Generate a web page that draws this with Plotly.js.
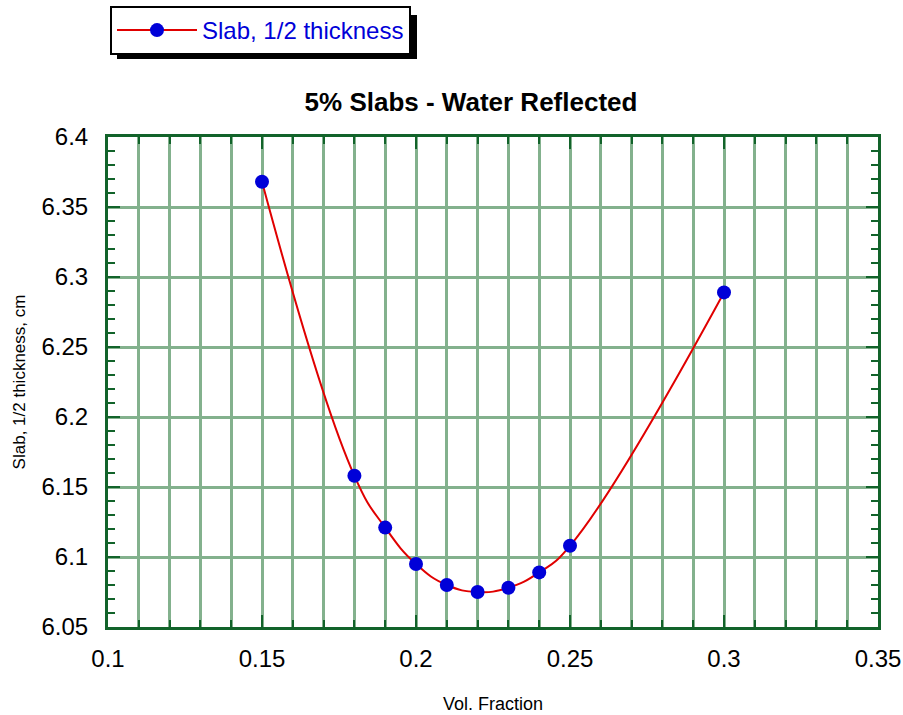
<!DOCTYPE html>
<html>
<head>
<meta charset="utf-8">
<script src="https://cdn.plot.ly/plotly-3.0.1.min.js"></script>
<style>html,body{margin:0;padding:0;background:#fff;}#chart{width:903px;height:715px;}</style>
</head>
<body>
<div id="chart"></div>
<script>
const volFraction = [0.15, 0.18, 0.19, 0.20, 0.21, 0.22, 0.23, 0.24, 0.25, 0.30];
const halfThickness = [6.368, 6.158, 6.121, 6.095, 6.080, 6.075, 6.078, 6.089, 6.108, 6.289];
const seriesName = "Slab, 1/2 thickness";
const chartTitle = "5% Slabs - Water Reflected";
const xTitle = "Vol. Fraction";
const yTitle = "Slab, 1/2 thickness, cm";
const xTickVals = [0.1, 0.15, 0.2, 0.25, 0.3, 0.35];
const xTickText = ["0.1", "0.15", "0.2", "0.25", "0.3", "0.35"];
const yTickVals = [6.05, 6.1, 6.15, 6.2, 6.25, 6.3, 6.35, 6.4];
const yTickText = ["6.05", "6.1", "6.15", "6.2", "6.25", "6.3", "6.35", "6.4"];

const W = 903, H = 715, ML = 108, MR = 25, MT = 137, MB = 88;
const PW = W - ML - MR, PH = H - MT - MB;
const px2x = p => (p - ML) / PW;
const py2y = p => (H - MB - p) / PH;

const frame = '#12632a';
const gridC = '#83b18d';
const FF = 'Arial, "Liberation Sans", sans-serif';

const trace = {
  x: volFraction, y: halfThickness, name: seriesName,
  type: 'scatter', mode: 'lines+markers',
  line: {color: '#e00000', width: 2, shape: 'spline', smoothing: 1.3},
  marker: {color: '#0000d8', size: 14, line: {width: 0}},
  showlegend: true
};

const axisCommon = {
  showline: true, linecolor: frame, linewidth: 3, mirror: 'allticks',
  ticks: 'inside', tickcolor: frame, tickwidth: 2, ticklen: 12,
  tickfont: {family: FF, size: 24, color: '#000'},
  zeroline: false, showgrid: true, gridcolor: gridC, gridwidth: 3,
  automargin: false
};

const layout = {
  width: W, height: H,
  margin: {l: ML, r: MR, t: MT, b: MB, pad: 0, autoexpand: false},
  paper_bgcolor: '#fff', plot_bgcolor: '#fff',
  font: {family: FF, color: '#000'},
  title: {text: '<b>' + chartTitle + '</b>', font: {size: 26, color: '#000', family: FF},
          x: px2x(471), xref: 'paper', xanchor: 'center', y: 1 - 102 / H, yanchor: 'middle'},
  xaxis: Object.assign({}, axisCommon, {
    range: [0.1, 0.35], tickmode: 'array', tickvals: xTickVals, ticktext: xTickText,
    ticklabelstandoff: 8,
    minor: {dtick: 0.01, tick0: 0.1, showgrid: true, gridcolor: gridC, gridwidth: 3,
            ticks: 'inside', ticklen: 7, tickcolor: frame, tickwidth: 2},
    title: {text: xTitle, font: {size: 18, color: '#000', family: FF}, standoff: 27}
  }),
  yaxis: Object.assign({}, axisCommon, {
    range: [6.05, 6.4], tickmode: 'array', tickvals: yTickVals, ticktext: yTickText,
    ticklabelstandoff: 12,
    minor: {dtick: 0.01, tick0: 6.05, showgrid: false,
            ticks: 'inside', ticklen: 7, tickcolor: frame, tickwidth: 2},
    title: {text: yTitle, font: {size: 17, color: '#000', family: FF}, standoff: 12}
  }),
  showlegend: true,
  legend: {
    x: px2x(110), y: py2y(6), xanchor: 'left', yanchor: 'top',
    bgcolor: '#fff', bordercolor: '#000', borderwidth: 2,
    font: {size: 24, color: '#0000d8', family: FF},
    itemwidth: 80
  },
  shapes: [{
    type: 'rect', xref: 'paper', yref: 'paper', layer: 'above',
    x0: px2x(117), x1: px2x(417), y0: py2y(15), y1: py2y(59),
    fillcolor: '#000', line: {width: 0}
  }]
};

Plotly.newPlot('chart', [trace], layout, {displayModeBar: false, staticPlot: true});
</script>
</body>
</html>
